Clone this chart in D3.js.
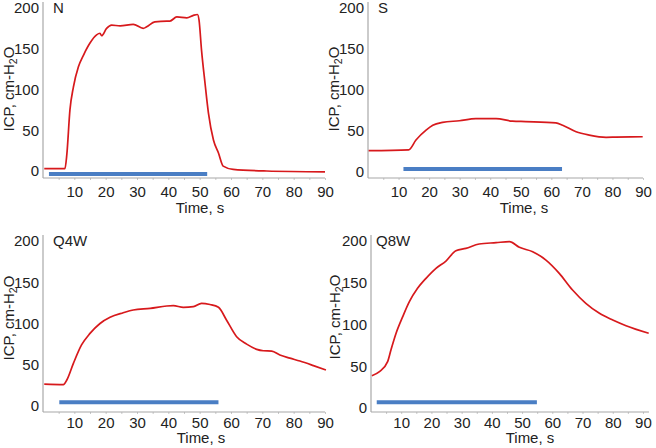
<!DOCTYPE html>
<html>
<head>
<meta charset="utf-8">
<script src="https://cdn.jsdelivr.net/npm/d3@7"></script>
<style>
  html, body { margin: 0; padding: 0; background: #fff; }
  svg { display: block; }
  text { font-family: "Liberation Sans", Arial, Helvetica, sans-serif; fill: #222; }
</style>
</head>
<body>
<svg id="chart" width="656" height="448"></svg>
<script>
// ---------- data (time in s, ICP in cm-H2O) ----------
const panelNames = ["N", "S", "Q4W", "Q8W"];
const xTickLabels = [10, 20, 30, 40, 50, 60, 70, 80, 90];
const yTickLabels = [0, 50, 100, 150, 200];

const nData = [[0.4,3],[7.0,3],[7.6,20],[8.6,75],[9.7,103],[11.3,128],[12.9,142],[15.0,157],[17.1,167],[18.2,169],[18.7,166],[20.3,175],[21.9,179],[24.6,178],[28.8,180],[32.0,175],[33.1,177],[35.7,183],[39.5,184],[40.5,184],[42.7,189],[45.9,188],[48.0,191],[49.3,192],[49.8,185],[50.6,148],[51.7,108],[52.8,71],[54.4,38],[56.0,22],[57.5,6],[60.7,2],[71.4,0],[90,-1]];
const sData = [[0.2,26],[13.3,27],[15.7,39],[19.0,51],[21.2,57],[24.4,60.5],[29.9,62.5],[35.3,65],[41.9,65],[47.3,62],[51.6,61.5],[61.5,60],[63.7,57],[68.1,49],[72.4,45],[77.9,42.3],[81.1,42.5],[89.9,43]];
const q4Data = [[0.4,26.5],[6.5,26],[7.6,31.5],[9.7,51.7],[12.3,74],[15.0,88],[18.2,100],[21.4,107.5],[25.6,113],[28.8,116.4],[34.2,118.4],[39.5,121.2],[41.6,121.6],[44.8,119.6],[48.0,120.4],[50.6,124.5],[53.3,123],[56.0,119.6],[58.6,104],[61.8,84],[65.0,75],[68.2,68.7],[70.3,67],[73.0,66.5],[75.6,61.8],[78.8,58],[82.0,54.5],[86.3,49],[90.3,43.6]];
const q8Data = [[0.3,38.7],[2.8,43.5],[5.5,55.5],[6.6,69.5],[8.3,89.5],[10.5,109.4],[12.7,127.3],[15.4,143.3],[18.2,155.3],[21.5,167.3],[24.8,176],[28.1,188.4],[31.4,191.2],[35.8,196.4],[41.4,198],[45.8,199.2],[49.1,192.4],[53.5,187.2],[57.9,177.2],[62.3,161.3],[66.7,141.3],[71.1,125.4],[75.6,113.4],[80.0,105.4],[84.4,98.6],[91.9,89.5]];

// stimulus bars: [start s, end s, level]
const nBar = [1.9, 52.4, -3.7];
const sBar = [11.6, 63.5, 3.7];
const q4Bar = [5.2, 56.0, 4.5];
const q8Bar = [1.9, 54.9, 6.8];

const seriesList = [nData, sData, q4Data, q8Data];
const barList = [nBar, sBar, q4Bar, q8Bar];
const xMaxList = [90, 90, 90, 92];

// ---------- layout ----------
const layouts = [
  { left: 43,  right: 325, axisY: 178, top: 2,   y0: 171, y200: 8,   tickGap: 8, titleX: 53,  yTitleX: 14,  yTitleY: 89,  xTitleX: 200, xTitleY: 213 },
  { left: 368, right: 643, axisY: 178, top: 2,   y0: 172, y200: 8,   tickGap: 8, titleX: 378, yTitleX: 339, yTitleY: 89,  xTitleX: 524, xTitleY: 213 },
  { left: 43,  right: 325, axisY: 412, top: 235, y0: 406, y200: 241, tickGap: 5, titleX: 53,  yTitleX: 14,  yTitleY: 318, xTitleX: 201, xTitleY: 443 },
  { left: 371, right: 649, axisY: 412, top: 235, y0: 408, y200: 241, tickGap: 5, titleX: 376, yTitleX: 340, yTitleY: 317, xTitleX: 530, xTitleY: 443 }
];

const svg = d3.select("#chart");
const FS = 15;
const axisColor = "#a8a8a8";

panelNames.forEach((name, i) => {
  const L = layouts[i];
  const x = d3.scaleLinear().domain([0, xMaxList[i]]).range([L.left, L.right]);
  const y = d3.scaleLinear().domain([0, 200]).range([L.y0, L.y200]);
  const g = svg.append("g");

  // y axis
  const yAx = g.append("g").attr("transform", `translate(${L.left},0)`)
    .call(d3.axisLeft(y).tickValues(yTickLabels).tickSize(0).tickPadding(4));
  yAx.select(".domain").remove();
  yAx.selectAll("text").attr("font-size", FS).style("font-family", '"Liberation Sans", Arial, sans-serif').attr("fill", "#222");
  g.append("line").attr("x1", L.left).attr("x2", L.left).attr("y1", L.top).attr("y2", L.axisY)
    .attr("stroke", axisColor).attr("stroke-width", 1.2);

  // x axis minor ticks
  const minor = g.append("g").attr("transform", `translate(0,${L.axisY})`)
    .call(d3.axisBottom(x).tickValues(d3.range(5, xMaxList[i] + 0.1, 5)).tickSize(2).tickFormat(""));
  minor.select(".domain").remove();
  minor.selectAll("line").attr("stroke", "#c8c8c8");

  // x axis labels
  const xAx = g.append("g").attr("transform", `translate(0,${L.axisY})`)
    .call(d3.axisBottom(x).tickValues(xTickLabels).tickSize(0).tickPadding(L.tickGap));
  xAx.select(".domain").remove();
  xAx.selectAll("text").attr("font-size", FS).style("font-family", '"Liberation Sans", Arial, sans-serif').attr("fill", "#222");
  g.append("line").attr("x1", L.left).attr("x2", L.right).attr("y1", L.axisY).attr("y2", L.axisY)
    .attr("stroke", axisColor).attr("stroke-width", 1.2);

  // stimulus bar
  const b = barList[i];
  g.append("line")
    .attr("x1", x(b[0])).attr("x2", x(b[1]))
    .attr("y1", y(b[2])).attr("y2", y(b[2]))
    .attr("stroke", "#4a7ec4").attr("stroke-width", 4);

  // ICP trace
  const line = d3.line().x(d => x(d[0])).y(d => y(d[1])).curve(d3.curveMonotoneX);
  g.append("path").datum(seriesList[i])
    .attr("d", line).attr("fill", "none")
    .attr("stroke", "#d7191c").attr("stroke-width", 1.7);

  // panel title
  g.append("text").attr("x", L.titleX).attr("y", y(200)).attr("dy", "0.36em")
    .attr("font-size", FS).text(name);

  // axis titles
  g.append("text").attr("x", L.xTitleX).attr("y", L.xTitleY)
    .attr("text-anchor", "middle").attr("font-size", FS).text("Time, s");

  const yt = g.append("text")
    .attr("transform", `translate(${L.yTitleX},${L.yTitleY}) rotate(-90)`)
    .attr("text-anchor", "middle").attr("font-size", FS);
  yt.append("tspan").text("ICP, cm-H");
  yt.append("tspan").attr("font-size", FS * 0.7).attr("dy", 3).text("2");
  yt.append("tspan").attr("dy", -3).text("O");
});
</script>
</body>
</html>
